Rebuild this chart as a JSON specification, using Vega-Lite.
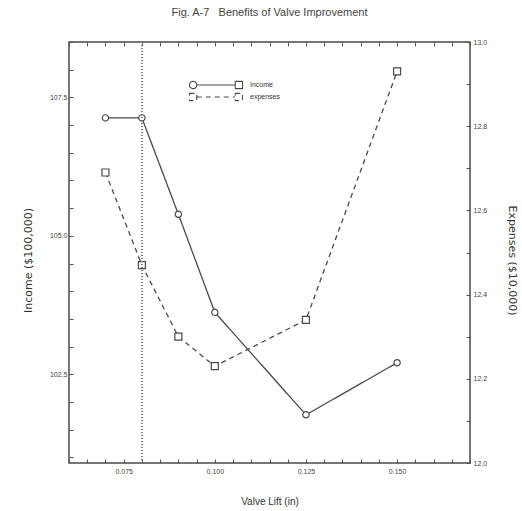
{
  "$schema": "https://vega.github.io/schema/vega-lite/v6.json",
  "width": 401,
  "height": 421,
  "autosize": {"type": "none"},
  "padding": {"left": 69, "top": 42, "right": 52, "bottom": 48},
  "background": "white",
  "title": {
    "text": "Fig. A-7\u00a0\u00a0 Benefits of Valve Improvement",
    "font": "Liberation Sans",
    "fontSize": 11,
    "fontWeight": "normal",
    "color": "#444",
    "anchor": "middle",
    "offset": 20
  },
  "config": {
    "view": {"stroke": "#4a4a4a", "strokeWidth": 1.5},
    "axis": {
      "domain": false,
      "grid": false,
      "tickSize": -4,
      "tickColor": "#555",
      "tickWidth": 1,
      "labelFont": "Liberation Sans",
      "labelFontSize": 7,
      "labelColor": "#444",
      "titleFont": "Liberation Sans",
      "titleFontSize": 10,
      "titleFontWeight": "normal",
      "titleColor": "#333"
    }
  },
  "data": {
    "values": [
      {"lift": 0.07, "income": 107.13, "expenses": 12.69},
      {"lift": 0.08, "income": 107.13, "expenses": 12.47},
      {"lift": 0.09, "income": 105.39, "expenses": 12.30},
      {"lift": 0.10, "income": 103.62, "expenses": 12.23},
      {"lift": 0.125, "income": 101.77, "expenses": 12.34},
      {"lift": 0.15, "income": 102.71, "expenses": 12.93}
    ]
  },
  "layer": [
    {
      "encoding": {
        "x": {
          "field": "lift",
          "type": "quantitative",
          "scale": {"domain": [0.06, 0.17], "nice": false, "zero": false},
          "axis": {
            "orient": "bottom",
            "title": "Valve Lift (in)",
            "titlePadding": 22,
            "labelPadding": 8,
            "values": [0.06, 0.065, 0.07, 0.075, 0.08, 0.085, 0.09, 0.095, 0.1, 0.105, 0.11, 0.115, 0.12, 0.125, 0.13, 0.135, 0.14, 0.145, 0.15, 0.155, 0.16, 0.165, 0.17],
            "labelExpr": "round(datum.value * 1000) % 25 === 0 ? format(datum.value, '.3f') : ''"
          }
        },
        "y": {
          "field": "income",
          "type": "quantitative",
          "scale": {"domain": [100.9, 108.5], "nice": false, "zero": false},
          "axis": {
            "orient": "left",
            "title": "Income ($100,000)",
            "titleFont": "DejaVu Sans",
            "titleFontSize": 11,
            "titlePadding": 16,
            "titleY": 218,
            "labelPadding": 6,
            "values": [101, 101.5, 102, 102.5, 103, 103.5, 104, 104.5, 105, 105.5, 106, 106.5, 107, 107.5, 108, 108.5],
            "labelExpr": "round(datum.value * 10) % 25 === 0 ? format(datum.value, '.1f') : ''"
          }
        }
      },
      "layer": [
        {
          "mark": {"type": "line", "color": "#4a4a4a", "strokeWidth": 1.3},
          "encoding": {
            "strokeDash": {
              "datum": "Income",
              "type": "nominal",
              "scale": {"domain": ["Income", "expenses"], "range": [[1, 0], [5, 4]]},
              "legend": {
                "orient": "none",
                "legendX": 141,
                "legendY": 37,
                "title": null,
                "padding": 0,
                "labelFont": "Liberation Sans",
                "labelFontSize": 7,
                "labelColor": "#333",
                "labelOffset": 28,
                "rowPadding": 0,
                "symbolSize": 108,
                "symbolStrokeColor": "#4a4a4a",
                "symbolFillColor": "white",
                "symbolStrokeWidth": 1.1,
                "encode": {
                  "symbols": {
                    "update": {
                      "shape": {"signal": "datum.value === 'Income' ? 'M-3.7,0A0.7,0.7 0 1,1 -5.1,0A0.7,0.7 0 1,1 -3.7,0M-3.7,0L3.7,0M3.7,-0.7L5.1,-0.7L5.1,0.7L3.7,0.7Z' : 'M-5.1,-0.7L-3.7,-0.7L-3.7,0.7L-5.1,0.7ZM-3.7,0L3.7,0M3.7,-0.7L5.1,-0.7L5.1,0.7L3.7,0.7Z'"}
                    }
                  }
                }
              }
            }
          }
        },
        {
          "mark": {"type": "point", "shape": "circle", "size": 40, "filled": false, "fill": "white", "stroke": "#4a4a4a", "strokeWidth": 1.2, "opacity": 1}
        }
      ]
    },
    {
      "encoding": {
        "x": {"field": "lift", "type": "quantitative", "axis": null},
        "y": {
          "field": "expenses",
          "type": "quantitative",
          "scale": {"domain": [12.0, 13.0], "nice": false, "zero": false},
          "axis": {
            "orient": "right",
            "title": "Expenses ($10,000)",
            "titleFont": "DejaVu Sans",
            "titleFontSize": 11,
            "titlePadding": 20,
            "titleY": 218,
            "labelPadding": 7,
            "values": [12.0, 12.1, 12.2, 12.3, 12.4, 12.5, 12.6, 12.7, 12.8, 12.9, 13.0],
            "labelExpr": "round(datum.value * 10) % 2 === 0 ? format(datum.value, '.1f') : ''"
          }
        }
      },
      "layer": [
        {
          "mark": {"type": "line", "color": "#4a4a4a", "strokeWidth": 1.3},
          "encoding": {
            "strokeDash": {"datum": "expenses", "type": "nominal"}
          }
        },
        {
          "mark": {"type": "point", "shape": "square", "size": 49, "filled": false, "fill": "white", "stroke": "#4a4a4a", "strokeWidth": 1.2, "opacity": 1}
        }
      ]
    },
    {
      "mark": {"type": "rule", "color": "#777", "strokeWidth": 0.8, "strokeDash": [1, 2]},
      "encoding": {
        "x": {
          "datum": 0.08,
          "type": "quantitative",
          "axis": {
            "orient": "top",
            "title": null,
            "labels": false,
            "values": [0.06, 0.065, 0.07, 0.075, 0.08, 0.085, 0.09, 0.095, 0.1, 0.105, 0.11, 0.115, 0.12, 0.125, 0.13, 0.135, 0.14, 0.145, 0.15, 0.155, 0.16, 0.165, 0.17]
          }
        }
      }
    }
  ],
  "resolve": {"scale": {"y": "independent"}, "axis": {"x": "independent"}}
}
